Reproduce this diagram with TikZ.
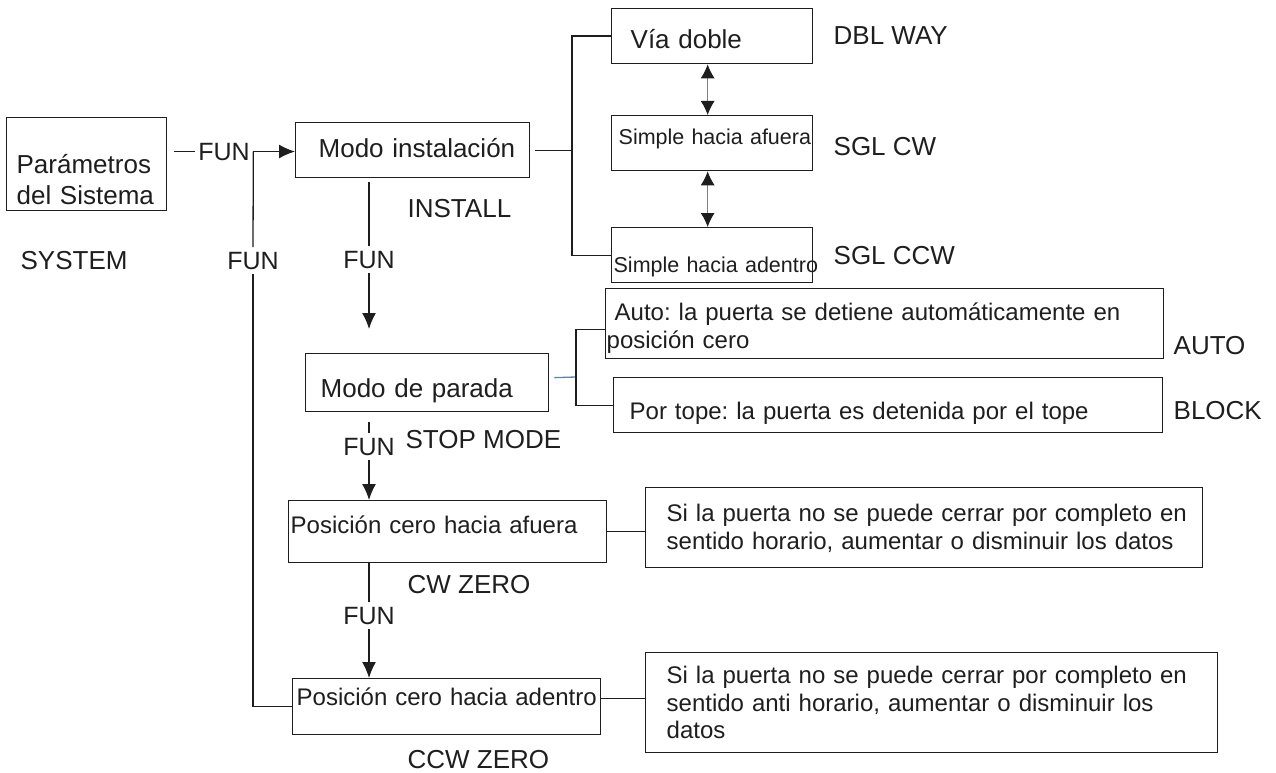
\documentclass[tikz,border=0pt]{standalone}
\usepackage{fontspec}
\setmainfont{Liberation Sans}
\usetikzlibrary{arrows.meta}
\definecolor{ink}{HTML}{1E1E1E}
\definecolor{linkblue}{HTML}{4A86C8}
\newcommand{\lgtxt}{\fontsize{26}{31}\selectfont}
\newcommand{\mdtxt}{\fontsize{24}{27.5}\selectfont}
\newcommand{\smtxt}{\fontsize{21.5}{26}\selectfont}
\frenchspacing

\begin{document}
\begin{tikzpicture}[x=1pt ,y=-1pt ,>={Latex[length=16pt,width=14pt]} ,
line width=1.3pt ,color=ink ,
box/.style ={ draw ,rectangle ,anchor=north west ,inner ysep=0pt ,align=left},
boxdim/.style n args={4}{inner xsep=#1 ,text width=#2 ,text height=#3 ,text depth=#4},
outname/.style ={anchor=base west ,inner sep=0pt ,font=\lgtxt},
funlbl/.style ={anchor=base ,inner xsep=3pt ,inner ysep=4pt ,font=\fontsize{25}{30}\selectfont},
dblarrow/.style ={arrows={Latex[length=14pt,width=14pt,color=ink]-Latex[length=14pt,width=14pt,color=ink]} ,draw=gray ,line width=1pt},
bluelink/.style ={draw=linkblue}]
\useasboundingbox (0,0) rectangle (1276,773);

\node[box ,boxdim={10pt}{140pt}{56pt}{37pt} ,font=\lgtxt] (sys) at (6,117) {\mbox{Parámetros}\\\mbox{del Sistema}};
\node[outname] (sysname) at (20,269) {SYSTEM};
\node[funlbl] (fun1) at (224,160) {FUN};
\node[funlbl] (fun2) at (253,269) {FUN};
\node[box ,boxdim={23pt}{188pt}{35pt}{20pt} ,font=\lgtxt] (inst) at (295,122) {\mbox{Modo instalación}};
\node[outname] (instname) at (407,217) {INSTALL};
\node[funlbl] (fun3) at (369,268) {FUN};

\node[box ,boxdim={19pt}{163pt}{40pt}{15pt} ,font=\lgtxt] (via) at (611,8) {\mbox{Vía doble}};
\node[box ,boxdim={7pt}{187pt}{29pt}{26pt} ,font=\smtxt] (scw) at (611,115) {\mbox{Simple hacia afuera}};
\node[box ,boxdim={2pt}{197pt}{45pt}{10pt} ,font=\smtxt] (sccw) at (611,227) {\mbox{Simple hacia adentro}};
\node[outname] (vianame) at (833,45) {DBL WAY};
\node[outname] (scwname) at (833,155) {SGL CW};
\node[outname] (sccwname) at (833,264) {SGL CCW};
\coordinate (brk1) at (572,150);

\node[box ,boxdim={15pt}{213pt}{44pt}{14pt} ,font=\lgtxt] (stop) at (305,353) {\mbox{Modo de parada}};
\node[box ,boxdim={1pt}{556pt}{32pt}{38pt} ,font=\mdtxt] (auto) at (605,288) {\mbox{\ Auto: la puerta se detiene automáticamente en}\\\mbox{posición cero}};
\node[box ,boxdim={16pt}{517pt}{42pt}{13pt} ,font=\mdtxt] (tope) at (613,377) {\mbox{Por tope: la puerta es detenida por el tope}};
\node[outname] (autoname) at (1173,354) {AUTO};
\node[outname] (topename) at (1173,419) {BLOCK};
\node[outname] (stopname) at (405,448) {STOP MODE};
\node[funlbl] (fun4) at (369,455) {FUN};
\coordinate (brk2) at (576,377);

\node[box ,boxdim={2pt}{314pt}{33pt}{29pt} ,font=\mdtxt] (zout) at (288,500) {\mbox{Posición cero hacia afuera}};
\node[box ,boxdim={21pt}{515pt}{34pt}{46pt} ,font=\mdtxt] (cwnote) at (645,487) {\mbox{Si la puerta no se puede cerrar por completo en}\\\mbox{sentido horario, aumentar o disminuir los datos}};
\node[outname] (zoutname) at (407,593) {CW ZERO};
\node[funlbl] (fun5) at (369,624) {FUN};
\node[box ,boxdim={4pt}{300pt}{27pt}{29pt} ,font=\mdtxt] (zin) at (292,678) {\mbox{Posición cero hacia adentro}};
\node[box ,boxdim={21pt}{530pt}{31pt}{69pt} ,font=\mdtxt] (ccwnote) at (645,652) {\mbox{Si la puerta no se puede cerrar por completo en}\\\mbox{sentido anti horario, aumentar o disminuir los}\\\mbox{datos}};
\node[outname] (zinname) at (407,768) {CCW ZERO};

\draw[shorten <=7pt] (sys.east |- fun1) -- (fun1.west);
\draw[->] (fun1.east) -- (fun1.east -| inst.west);
\draw (fun1.east) -- (fun2.north);
\draw (fun2.south) |- (zin.west);
\draw[shorten <=4pt] (inst.south -| fun3) -- (fun3.north);
\draw[->,shorten >=24pt] (fun3.south) -- (stop.north -| fun3);

\draw[shorten <=5pt] (inst.east) -- (inst.east -| brk1);
\draw (via.west) -| (brk1) |- (sccw.west);
\draw[dblarrow] ([xshift=-4.5pt]via.south) -- ([xshift=-4.5pt]scw.north);
\draw[dblarrow] ([xshift=-4.5pt]scw.south) -- ([xshift=-4.5pt]sccw.north);

\draw[bluelink] ([shift={(5pt,5pt)}]stop.east) -- (brk2);
\draw ([yshift=-6pt]auto.west) -| (brk2) |- (tope.west);
\draw[shorten <=10pt] (stop.south -| fun4) -- (fun4.north);
\draw[->] (fun4.south) -- (zout.north -| fun4);

\draw (zout.east) -- (zout.east -| cwnote.west);
\draw (zout.south -| fun5) -- (fun5.north);
\draw[->] (fun5.south) -- (zin.north -| fun5);
\draw ([yshift=8pt]zin.east) -- ([yshift=8pt]zin.east -| ccwnote.west);
\end{tikzpicture}
\end{document}
